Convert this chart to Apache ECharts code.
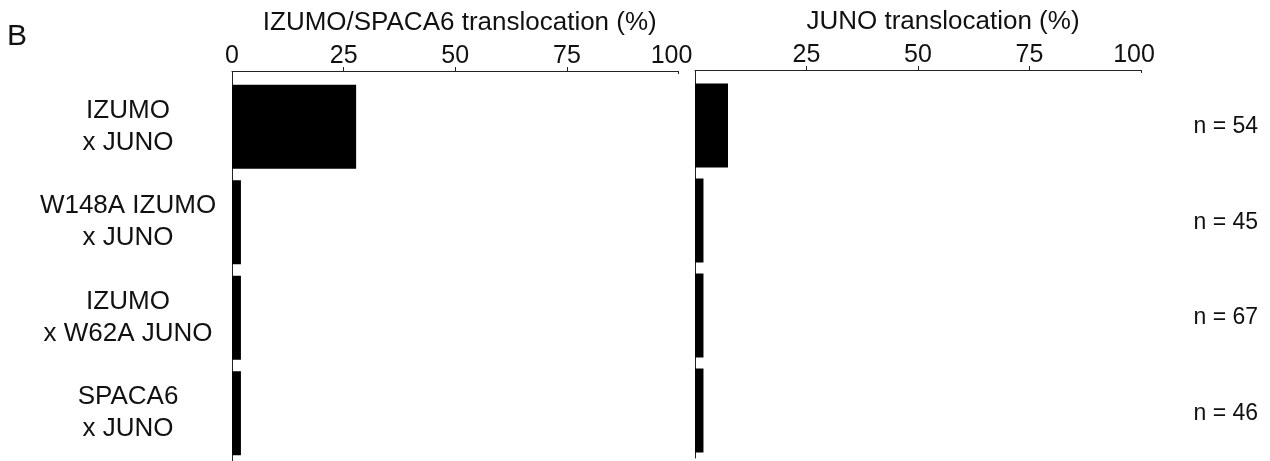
<!DOCTYPE html>
<html>
<head>
<meta charset="utf-8">
<script src="https://cdn.jsdelivr.net/npm/echarts@6/dist/echarts.min.js"></script>
<style>
  html, body { margin: 0; padding: 0; background: #fff; }
  #chart { width: 1270px; height: 461px; }
</style>
</head>
<body>
<div id="chart"></div>
<script>
// Crosses, top to bottom
const crosses = ['IZUMO\nx JUNO', 'W148A IZUMO\nx JUNO', 'IZUMO\nx W62A JUNO', 'SPACA6\nx JUNO'];
// Percent of cells showing IZUMO/SPACA6 translocation
const izumoSpacaPct = [27.8, 2.0, 2.0, 2.0];
// Percent of cells showing JUNO translocation
const junoPct = [7.4, 1.9, 1.9, 1.9];
// Number of cells counted per cross
const cellCounts = [54, 45, 67, 46];
// Axis ticks
const pctTicks = [0, 25, 50, 75, 100];

const FONT = 'Liberation Sans, Arial, Helvetica, sans-serif';
const INK = '#111';
const LINE = '#222';

function percentAxis(gridIndex, name, namePadLeft, hideZero) {
  return [
    {
      // main axis: line, labels and the short upward ticks
      type: 'value', gridIndex: gridIndex, position: 'top', offset: 8,
      min: 0, max: 100, interval: 25,
      name: name, nameLocation: 'middle', nameGap: 35,
      nameTextStyle: { fontFamily: FONT, fontSize: 26, color: INK, padding: [0, 0, 0, namePadLeft] },
      axisLine: { show: true, lineStyle: { color: LINE, width: 1 } },
      axisTick: { show: true, inside: false, length: 4, customValues: [25, 50, 75], lineStyle: { color: LINE } },
      axisLabel: {
        show: true, margin: 2, fontFamily: FONT, fontSize: 25, color: INK,
        customValues: hideZero ? pctTicks.slice(1) : pctTicks,
        formatter: v => v === 100 ? '{m|100}' : String(v),
        rich: { m: { fontFamily: FONT, fontSize: 25, color: INK, padding: [0, 14, 0, 0] } }
      },
      splitLine: { show: false }
    },
    {
      // joins the category axis to the value axis at 0
      type: 'value', gridIndex: gridIndex, position: 'top', offset: 8,
      min: 0, max: 100,
      axisLine: { show: false },
      axisTick: { show: true, inside: true, length: 8, customValues: [0], lineStyle: { color: LINE } },
      axisLabel: { show: false }, splitLine: { show: false }
    },
    {
      // small downward tick at 100
      type: 'value', gridIndex: gridIndex, position: 'top', offset: 8,
      min: 0, max: 100,
      axisLine: { show: false },
      axisTick: { show: true, inside: true, length: 3, customValues: [100], lineStyle: { color: LINE } },
      axisLabel: { show: false }, splitLine: { show: false }
    }
  ];
}

const chart = echarts.init(document.getElementById('chart'), null, { renderer: 'canvas' });

chart.setOption({
  animation: false,
  backgroundColor: '#fff',
  title: {
    text: 'B', left: 7, top: 22, padding: 0,
    textStyle: { fontFamily: FONT, fontSize: 30, fontWeight: 'normal', color: INK }
  },
  grid: [
    { left: 232, top: 79, width: 446.5, height: 387 },
    { left: 695, top: 78, width: 446, height: 380 }
  ],
  xAxis: [
    ...percentAxis(0, 'IZUMO/SPACA6 translocation (%)', 9, false),
    ...percentAxis(1, 'JUNO translocation (%)', 50, true)
  ],
  yAxis: [
    {
      type: 'category', gridIndex: 0, data: crosses, inverse: true,
      axisLine: { show: true, lineStyle: { color: LINE, width: 1 } },
      axisTick: { show: false },
      axisLabel: { align: 'center', margin: 104, fontFamily: FONT, fontSize: 26, lineHeight: 32, color: INK }
    },
    {
      type: 'category', gridIndex: 1, data: crosses, inverse: true,
      axisLine: { show: true, lineStyle: { color: LINE, width: 1 } },
      axisTick: { show: false },
      axisLabel: { show: false }
    },
    {
      // cell counts on the far right
      type: 'category', gridIndex: 0, position: 'right', data: cellCounts.map(n => 'n = ' + n), inverse: true,
      axisLine: { show: false }, axisTick: { show: false },
      axisLabel: { align: 'left', margin: 515, fontFamily: FONT, fontSize: 23, color: INK }
    }
  ],
  series: [
    {
      type: 'bar', xAxisIndex: 0, yAxisIndex: 0, data: izumoSpacaPct,
      barWidth: 84, itemStyle: { color: '#000' }, silent: true
    },
    {
      type: 'bar', xAxisIndex: 3, yAxisIndex: 1, data: junoPct,
      barWidth: 84, itemStyle: { color: '#000' }, silent: true
    }
  ]
});
</script>
</body>
</html>
